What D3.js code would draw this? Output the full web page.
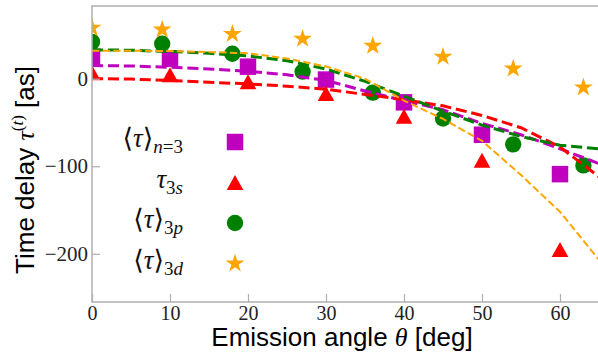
<!DOCTYPE html>
<html>
<head>
<meta charset="utf-8">
<script src="https://cdn.jsdelivr.net/npm/d3@7"></script>
<style>
  body { margin: 0; background: #fff; }
  svg { display: block; }
</style>
</head>
<body>
<svg id="chart" width="598" height="354"></svg>
<script>
// marker data: squares/triangles every 10 deg, circles/stars every 9 deg
const angles10 = [0, 10, 20, 30, 40, 50, 60]
const angles9 = [0, 9, 18, 27, 36, 45, 54, 63]
const tauN3 = [25, 22.8, 13.7, -1, -27, -64, -109]
const tau3s = [7, 4.6, -3.4, -17, -43, -93, -195]
const tau3p = [42, 40, 28.5, 8, -16, -45.5, -75, -99]
const tau3d = [58, 56, 51, 45.5, 37.5, 25, 11.5, -10]

// dashed model curves
const curveAngles = [0, 5, 10, 15, 20, 25, 30, 35, 40, 45, 50, 55, 60, 65]
const curveN3 = [15, 14.5, 13, 11, 8.5, 4.5, -2, -14, -25, -35.5, -51, -64, -80, -97]
const curve3s = [0, -0.5, -2, -4, -6, -8.5, -12, -18, -24, -31, -42, -56, -78, -112]
const curve3p = [33, 32.5, 31, 29, 26, 20.5, 11, -3, -20, -37, -53, -66, -76, -80]
const curve3d = [32, 32, 31.5, 30.5, 29, 23, 14, 0, -25, -46, -71, -110, -152, -207]

const xTicks = [0, 10, 20, 30, 40, 50, 60]
const yTicks = [0, -100, -200]

let svg = d3.select('#chart'),
    plotLeft = 92, plotRight = 599, plotTop = 6, plotBottom = 302

let x = d3.scaleLinear().domain([0, 65]).range([plotLeft, plotRight])
let y = d3.scaleLinear().domain([-255, 83]).range([plotBottom, plotTop])

svg.append('defs').append('clipPath').attr('id', 'plotClip')
  .append('rect')
  .attr('x', plotLeft).attr('y', plotTop)
  .attr('width', plotRight - plotLeft).attr('height', plotBottom - plotTop)

let plot = svg.append('g').attr('clip-path', 'url(#plotClip)')

// markers first, the dashed curves sit on top of them
let series = [
  {angles: angles10, vals: tauN3, color: '#bf00bf', shape: 'square'},
  {angles: angles10, vals: tau3s, color: '#ff0000', shape: 'triangle'},
  {angles: angles9, vals: tau3p, color: '#008000', shape: 'circle'},
  {angles: angles9, vals: tau3d, color: '#ffa500', shape: 'star'}
]

let shapePath = shape => {
  if (shape === 'square') return d3.symbol(d3.symbolSquare, 272)()
  if (shape === 'circle') return d3.symbol(d3.symbolCircle, 210)()
  if (shape === 'star') return d3.symbol(d3.symbolStar, 110)()
  // matplotlib style triangle: width == height, centred on its box
  return 'M0,-7.5L8.3,7.5L-8.3,7.5Z'
}

series.forEach(s => {
  plot.selectAll(null)
    .data(s.vals)
    .enter()
    .append('path')
    .attr('d', shapePath(s.shape))
    .attr('transform', (d, i) => `translate(${x(s.angles[i])},${y(d)})`)
    .attr('fill', s.color)
})

let curves = [
  {vals: curveN3, color: '#bf00bf', width: 3},
  {vals: curve3s, color: '#ff0000', width: 3},
  {vals: curve3p, color: '#008000', width: 3},
  {vals: curve3d, color: '#ffa500', width: 2}
]

let line = d3.line().x((d, i) => x(curveAngles[i])).y(d => y(d))

curves.forEach(c => {
  plot.append('path')
    .attr('d', line(c.vals))
    .attr('fill', 'none')
    .attr('stroke', c.color)
    .attr('stroke-width', c.width)
    .attr('stroke-dasharray', `${3.7 * c.width},${1.6 * c.width}`)
})

// spines
let spineColor = '#b0b0b0'
svg.append('path')
  .attr('d', `M${plotRight},${plotTop}H${plotLeft}V${plotBottom}H${plotRight}`)
  .attr('fill', 'none')
  .attr('stroke', spineColor)
  .attr('stroke-width', 1.5)

// axes with inward ticks
let serif = 'Liberation Serif, DejaVu Serif, serif'

let xAxis = svg.append('g')
  .attr('transform', `translate(0,${plotBottom})`)
  .call(d3.axisBottom(x).tickValues(xTicks).tickSize(-8).tickPadding(4))
xAxis.select('.domain').remove()
xAxis.selectAll('line').attr('stroke', spineColor).attr('stroke-width', 1.2)
xAxis.selectAll('text')
  .attr('font-family', serif).attr('font-size', 20).attr('fill', '#222')

let yAxis = svg.append('g')
  .attr('transform', `translate(${plotLeft},0)`)
  .call(d3.axisLeft(y).tickValues(yTicks).tickSize(-8).tickPadding(4))
yAxis.select('.domain').remove()
yAxis.selectAll('line').attr('stroke', spineColor).attr('stroke-width', 1.2)
yAxis.selectAll('text')
  .attr('font-family', serif).attr('font-size', 21).attr('fill', '#222')
  .attr('x', -4)

// axis titles
let sans = 'Liberation Sans, Arial, sans-serif'

let xTitle = svg.append('text')
  .attr('x', 342).attr('y', 346)
  .attr('text-anchor', 'middle')
  .attr('font-family', sans).attr('font-size', 26).attr('fill', '#000')
xTitle.append('tspan').text('Emission angle ')
xTitle.append('tspan').attr('font-family', serif).attr('font-style', 'italic').text('θ')
xTitle.append('tspan').text(' [deg]')

let yTitle = svg.append('text')
  .attr('transform', 'translate(34,170) rotate(-90)')
  .attr('text-anchor', 'middle')
  .attr('font-family', sans).attr('font-size', 26).attr('fill', '#000')
yTitle.append('tspan').text('Time delay ')
yTitle.append('tspan').attr('font-family', serif).attr('font-style', 'italic').text('τ')
yTitle.append('tspan').attr('font-family', serif).attr('font-size', 17).attr('dy', -11).text('(')
yTitle.append('tspan').attr('font-family', serif).attr('font-size', 17).attr('font-style', 'italic').text('t')
yTitle.append('tspan').attr('font-family', serif).attr('font-size', 17).text(')')
yTitle.append('tspan').attr('dy', 11).text(' [as]')

// legend, labels on the left, markers on the right
let legendRows = [
  {main: ['⟨', 'τ', '⟩'], sub: [['n', true], ['=3', false]], shape: 'square', color: '#bf00bf'},
  {main: ['', 'τ', ''], sub: [['3', false], ['s', true]], shape: 'triangle', color: '#ff0000'},
  {main: ['⟨', 'τ', '⟩'], sub: [['3', false], ['p', true]], shape: 'circle', color: '#008000'},
  {main: ['⟨', 'τ', '⟩'], sub: [['3', false], ['d', true]], shape: 'star', color: '#ffa500'}
]

let legend = svg.append('g')
legendRows.forEach((row, i) => {
  let cy = 142 + i * 40.5
  legend.append('path')
    .attr('d', shapePath(row.shape))
    .attr('transform', `translate(235,${cy})`)
    .attr('fill', row.color)
  let t = legend.append('text')
    .attr('x', 183).attr('y', cy + 5)
    .attr('text-anchor', 'end')
    .attr('font-family', serif).attr('font-size', 27).attr('fill', '#111')
  if (row.main[0]) t.append('tspan').text(row.main[0])
  t.append('tspan').attr('font-style', 'italic').text(row.main[1])
  if (row.main[2]) t.append('tspan').text(row.main[2])
  row.sub.forEach((s, j) => {
    t.append('tspan')
      .attr('font-size', 19)
      .attr('font-style', s[1] ? 'italic' : 'normal')
      .attr('dy', j === 0 ? 6 : 0)
      .text(s[0])
  })
})
</script>
</body>
</html>
